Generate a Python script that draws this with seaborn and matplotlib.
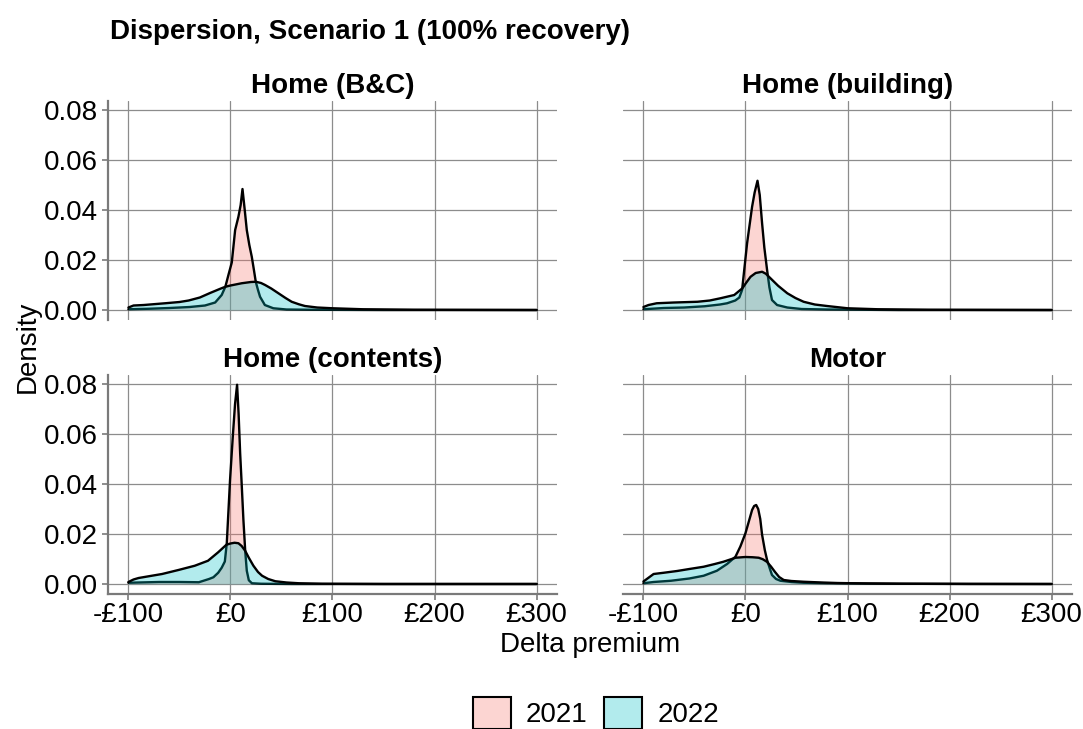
import pandas as pd
import matplotlib
matplotlib.use('Agg')
import matplotlib.pyplot as plt
from matplotlib.patches import Patch
import seaborn as sns

# --- Dados (densidade por linha de produto e ano) ---
panels = ['Home (B&C)', 'Home (building)', 'Home (contents)', 'Motor']
years = ['2021', '2022']
fill_colors = {'2021': '#F8766D', '2022': '#00BFC4'}

x_ticks = [-100, 0, 100, 200, 300]
x_tick_labels = ['-£100', '£0', '£100', '£200', '£300']
y_ticks = [0.00, 0.02, 0.04, 0.06, 0.08]
y_tick_labels = ['0.00', '0.02', '0.04', '0.06', '0.08']

# Home (B&C)
bc_2021_x = [-100, -80, -60, -40, -25, -15, -8.6, -5, -2, 1.3, 4.6, 7.8, 10, 11.8, 14, 16, 18.5,
             20.9, 23, 24.8, 27, 29, 33.7, 42, 55, 80, 150, 300]
bc_2021_y = [0.0003, 0.0005, 0.0008, 0.0012, 0.0018, 0.0030, 0.0060, 0.0093, 0.0140, 0.0190, 0.0320,
             0.0373, 0.0420, 0.0484, 0.0400, 0.0320, 0.0260, 0.0213, 0.0160, 0.0113, 0.0080, 0.0053,
             0.0020, 0.0007, 0.0002, 0.0001, 0.0, 0.0]
bc_2022_x = [-100, -95, -85, -64, -50, -41, -30, -20, -10, -5, 0, 11, 20, 25, 30, 34, 40, 47, 54,
             60, 67, 73, 85, 100, 130, 180, 300]
bc_2022_y = [0.0010, 0.0018, 0.0020, 0.0027, 0.0032, 0.0038, 0.0050, 0.0068, 0.0085, 0.0093, 0.0098,
             0.0107, 0.0112, 0.0113, 0.0108, 0.0100, 0.0086, 0.0067, 0.0048, 0.0033, 0.0023, 0.0016,
             0.0010, 0.0007, 0.0003, 0.0001, 0.0]

# Home (building)
bld_2021_x = [-100, -80, -60, -40, -25, -18, -10, -6, -3.3, 1.6, 6.5, 9, 11.8, 14, 16.3, 18.5,
              21.2, 23.5, 26, 31, 41, 55, 80, 150, 300]
bld_2021_y = [0.0003, 0.0008, 0.0010, 0.0015, 0.0022, 0.0027, 0.0038, 0.0050, 0.0080, 0.0267,
              0.0413, 0.0470, 0.0517, 0.0460, 0.0347, 0.0250, 0.0160, 0.0090, 0.0040, 0.0020,
              0.0010, 0.0004, 0.0002, 0.0, 0.0]
bld_2022_x = [-100, -95, -87, -70, -47, -35, -24.5, -11, -3, 0, 5, 10, 16.3, 20, 24.5, 32, 41,
              49, 57, 68, 80, 100, 130, 180, 300]
bld_2022_y = [0.0012, 0.0020, 0.0027, 0.0030, 0.0033, 0.0038, 0.0047, 0.0060, 0.0087, 0.0105,
              0.0133, 0.0148, 0.0153, 0.0145, 0.0127, 0.0097, 0.0067, 0.0048, 0.0033, 0.0022,
              0.0016, 0.0007, 0.0003, 0.0001, 0.0]

# Home (contents)
cnt_2021_x = [-100, -70, -50, -31, -21, -16.7, -12, -8.6, -5.5, -3.6, -0.4, 2.3, 4.5, 6.5, 8,
              9.5, 11, 12.7, 14.5, 16, 18, 21, 30, 60, 300]
cnt_2021_y = [0.0005, 0.0008, 0.0008, 0.0007, 0.0020, 0.0027, 0.0045, 0.0065, 0.0090, 0.0163,
              0.0416, 0.0590, 0.0720, 0.0797, 0.0680, 0.0523, 0.0400, 0.0256, 0.0130, 0.0053,
              0.0015, 0.0003, 0.0001, 0.0, 0.0]
cnt_2022_x = [-100, -95, -90, -80, -67, -51, -35, -22, -12, -4, 0, 4, 7.8, 11, 14.4, 18, 22.5,
              27, 31, 37, 44, 55, 67, 90, 150, 300]
cnt_2022_y = [0.0008, 0.0018, 0.0024, 0.0031, 0.0040, 0.0056, 0.0073, 0.0093, 0.0127, 0.0157,
              0.0162, 0.0165, 0.0163, 0.0152, 0.0133, 0.0105, 0.0073, 0.0048, 0.0033, 0.0020,
              0.0011, 0.0006, 0.0003, 0.0001, 0.0, 0.0]

# Motor
mot_2021_x = [-100, -90, -73, -55, -41, -28, -18, -9.8, -5, 0, 4, 6.5, 8.5, 10.5, 12.5, 14.5,
              16.3, 19, 21.2, 24, 26, 30, 34.3, 45, 57, 80, 150, 300]
mot_2021_y = [0.0003, 0.0008, 0.0013, 0.0022, 0.0033, 0.0053, 0.0080, 0.0109, 0.0150, 0.0203,
              0.0260, 0.0296, 0.0312, 0.0316, 0.0300, 0.0260, 0.0197, 0.0135, 0.0096, 0.0060,
              0.0036, 0.0020, 0.0013, 0.0008, 0.0005, 0.0003, 0.0001, 0.0]
mot_2022_x = [-100, -97, -90, -80, -67, -55, -41, -30, -21.6, -9.8, 0, 7, 13, 17, 21, 25, 29,
              33, 37.5, 45, 57, 75, 90, 120, 155, 220, 300]
mot_2022_y = [0.0010, 0.0019, 0.0040, 0.0045, 0.0052, 0.0060, 0.0069, 0.0080, 0.0089, 0.0105,
              0.0108, 0.0107, 0.0105, 0.0099, 0.0089, 0.0070, 0.0048, 0.0028, 0.0016, 0.0012,
              0.0009, 0.0006, 0.0004, 0.0002, 0.0001, 0.0, 0.0]

series = {
    ('Home (B&C)', '2021'): (bc_2021_x, bc_2021_y),
    ('Home (B&C)', '2022'): (bc_2022_x, bc_2022_y),
    ('Home (building)', '2021'): (bld_2021_x, bld_2021_y),
    ('Home (building)', '2022'): (bld_2022_x, bld_2022_y),
    ('Home (contents)', '2021'): (cnt_2021_x, cnt_2021_y),
    ('Home (contents)', '2022'): (cnt_2022_x, cnt_2022_y),
    ('Motor', '2021'): (mot_2021_x, mot_2021_y),
    ('Motor', '2022'): (mot_2022_x, mot_2022_y),
}

rows = []
for (panel, year), (xs, ys) in series.items():
    for xv, yv in zip(xs, ys):
        rows.append({'line': panel, 'year': year, 'delta': xv, 'density': yv})
df = pd.DataFrame(rows)

# --- Estilo ---
sns.set_theme(style='white')
plt.rcParams['font.family'] = ['Liberation Sans', 'DejaVu Sans']
plt.rcParams['text.color'] = 'black'
plt.rcParams['axes.labelcolor'] = 'black'
FS = 20
AXIS_GRAY = '#7a7a7a'


def desenhar_densidade(data, **kws):
    ax = plt.gca()
    z = 2
    for year in years:
        sub = data[data['year'] == year].sort_values('delta')
        ax.fill_between(sub['delta'], sub['density'], color=fill_colors[year], alpha=0.3,
                        linewidth=0, zorder=z)
        sns.lineplot(data=sub, x='delta', y='density', color='black', linewidth=1.7,
                     estimator=None, sort=False, ax=ax, zorder=z + 1)
        z += 2


g = sns.FacetGrid(df, col='line', col_order=panels, col_wrap=2, sharex=True, sharey=True,
                  despine=False, height=3, aspect=1.5)
g.map_dataframe(desenhar_densidade)
fig = g.figure
fig.set_size_inches(10.83, 7.29)
fig.subplots_adjust(left=108 / 1083, right=1072 / 1083, top=1 - 101 / 729, bottom=1 - 594 / 729,
                    wspace=0.147, hspace=0.251)

for i, (ax, name) in enumerate(zip(g.axes.flat, panels)):
    ax.set_xlim(-120, 320)
    ax.set_ylim(-0.004, 0.0836)
    ax.set_xticks(x_ticks)
    ax.set_yticks(y_ticks)
    ax.grid(True, color='#8c8c8c', linewidth=0.9)
    ax.set_axisbelow(True)
    ax.set_xlabel('')
    ax.set_ylabel('')
    ax.set_title(name, fontsize=FS, fontweight='bold', pad=6, color='black')
    for side in ['top', 'right', 'left', 'bottom']:
        ax.spines[side].set_visible(False)
    left_col = i % 2 == 0
    bottom_row = i >= 2
    if left_col:
        ax.spines['left'].set_visible(True)
        ax.spines['left'].set_color(AXIS_GRAY)
        ax.spines['left'].set_linewidth(1.6)
        ax.set_yticklabels(y_tick_labels)
        ax.tick_params(axis='y', left=True, labelleft=True, length=4, width=1.2, color=AXIS_GRAY,
                       labelsize=FS, labelcolor='black', pad=3)
    else:
        ax.tick_params(axis='y', left=False, labelleft=False)
    if bottom_row:
        ax.spines['bottom'].set_visible(True)
        ax.spines['bottom'].set_color(AXIS_GRAY)
        ax.spines['bottom'].set_linewidth(1.6)
        ax.set_xticklabels(x_tick_labels)
        ax.tick_params(axis='x', bottom=True, labelbottom=True, length=4, width=1.2,
                       color=AXIS_GRAY, labelsize=FS, labelcolor='black', pad=2)
    else:
        ax.tick_params(axis='x', bottom=False, labelbottom=False)

fig.text(110 / 1083, 1 - 32 / 729, 'Dispersion, Scenario 1 (100% recovery)', fontsize=FS,
         fontweight='bold', ha='left', va='center')
fig.text(28 / 1083, 1 - 347 / 729, 'Density', fontsize=FS, rotation=90, ha='center', va='center')
fig.text(590 / 1083, 1 - 645 / 729, 'Delta premium', fontsize=FS, ha='center', va='center')

handles = [Patch(facecolor=matplotlib.colors.to_rgba(fill_colors[y], 0.3), edgecolor='black',
                 linewidth=1.5) for y in years]
fig.legend(handles, years, loc='center', bbox_to_anchor=(596 / 1083, 1 - 713 / 729), ncol=2,
           frameon=False, fontsize=FS, handlelength=1.35, handleheight=1.35, handletextpad=0.55,
           columnspacing=0.6)

fig.savefig('out.png', dpi=100)
